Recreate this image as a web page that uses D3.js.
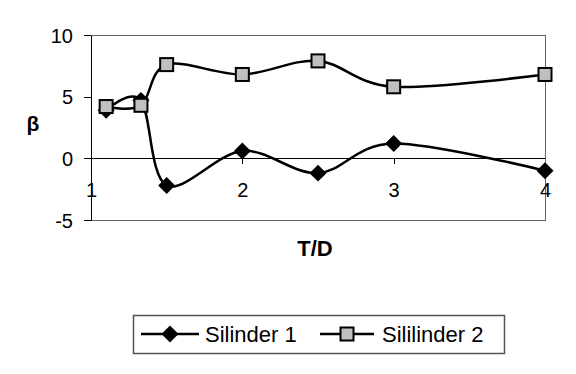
<!DOCTYPE html>
<html>
<head>
<meta charset="utf-8">
<script src="https://cdn.jsdelivr.net/npm/d3@7"></script>
<style>
  html, body { margin: 0; padding: 0; background: #fff; }
  svg { display: block; font-family: "Liberation Sans", Arial, sans-serif; }
  .axis path, .axis line { stroke: #000; shape-rendering: crispEdges; }
  .axis text { font-size: 20px; fill: #000; }
</style>
</head>
<body>
<svg id="chart" width="576" height="374"></svg>
<script>
// T/D values on the x axis
const ratios = [1.1, 1.33, 1.5, 2, 2.5, 3, 4];
// beta values
const silinder1 = [3.9, 4.7, -2.2, 0.6, -1.2, 1.2, -1.0];
const silinder2 = [4.2, 4.3, 7.6, 6.8, 7.9, 5.8, 6.8];
const seriesNames = ['Silinder 1', 'Sililinder 2'];
const xTicks = [1, 2, 3, 4];
const yTicks = [-5, 0, 5, 10];

const svg = d3.select('#chart');
const x = d3.scaleLinear().domain([1, 4]).range([91, 545]);
const y = d3.scaleLinear().domain([-5, 10]).range([220, 35]);
const fmt = d => String(d);

// plot area border (top, right, bottom)
svg.append('path')
  .attr('d', `M${x(1)},${y(10)}H${x(4)}V${y(-5)}H${x(1)}`)
  .attr('fill', 'none').attr('stroke', '#666').attr('stroke-width', 1)
  .attr('shape-rendering', 'crispEdges');

// y axis
svg.append('g').attr('class', 'axis')
  .attr('transform', `translate(${x(1)},0)`)
  .call(d3.axisLeft(y).tickValues(yTicks).tickFormat(fmt).tickSize(7).tickPadding(11).tickSizeOuter(0))
  .call(g => g.selectAll('text').attr('dy', '0.35em'));

// x axis crossing at zero
svg.append('g').attr('class', 'axis')
  .attr('transform', `translate(0,${y(0)})`)
  .call(d3.axisBottom(x).tickValues(xTicks).tickFormat(fmt).tickSize(6).tickPadding(18).tickSizeOuter(0))
  .call(g => g.select('.domain').attr('d', `M${x(1) - 7},0.5H${x(4)}`))
  .call(g => g.selectAll('.tick').filter(d => d === 1 || d === 4).select('line').remove());

// axis titles
svg.append('text').attr('x', 315).attr('y', 256)
  .attr('text-anchor', 'middle').attr('font-size', 22).attr('font-weight', 'bold')
  .text('T/D');
svg.append('text').attr('x', 33).attr('y', 131)
  .attr('text-anchor', 'middle').attr('font-size', 21).attr('font-weight', 'bold')
  .text('β');

const line = d3.line().x(d => x(d[0])).y(d => y(d[1])).curve(d3.curveCatmullRom.alpha(0));
const diamond = d3.symbol(d3.symbolSquare, 144);

function drawSeries(values, kind) {
  const pts = ratios.map((r, i) => [r, values[i]]);
  svg.append('path').datum(pts).attr('d', line)
    .attr('fill', 'none').attr('stroke', '#000').attr('stroke-width', 2.5);
  const marks = svg.append('g').selectAll('g').data(pts).join('g')
    .attr('transform', d => `translate(${x(d[0])},${y(d[1])})`);
  drawMarker(marks, kind);
}

function drawMarker(sel, kind) {
  if (kind === 'diamond') {
    sel.append('path').attr('d', diamond).attr('transform', 'rotate(45)').attr('fill', '#000');
  } else {
    sel.append('rect').attr('x', -6.5).attr('y', -6.5).attr('width', 13).attr('height', 13)
      .attr('fill', '#c0c0c0').attr('stroke', '#000').attr('stroke-width', 2);
  }
}

drawSeries(silinder1, 'diamond');
drawSeries(silinder2, 'square');

// legend
const legend = svg.append('g');
legend.append('rect').attr('x', 133.5).attr('y', 315.5).attr('width', 371).attr('height', 38)
  .attr('fill', '#fff').attr('stroke', '#555').attr('stroke-width', 1.5);
const legendItems = [
  { name: seriesNames[0], kind: 'diamond', x0: 141, x1: 199, tx: 205 },
  { name: seriesNames[1], kind: 'square', x0: 320, x1: 374, tx: 382 }
];
legendItems.forEach(it => {
  legend.append('line').attr('x1', it.x0).attr('x2', it.x1).attr('y1', 334).attr('y2', 334)
    .attr('stroke', '#000').attr('stroke-width', 2.5);
  drawMarker(legend.append('g').attr('transform', `translate(${(it.x0 + it.x1) / 2},334)`), it.kind);
  legend.append('text').attr('x', it.tx).attr('y', 342).attr('font-size', 22).text(it.name);
});
</script>
</body>
</html>
